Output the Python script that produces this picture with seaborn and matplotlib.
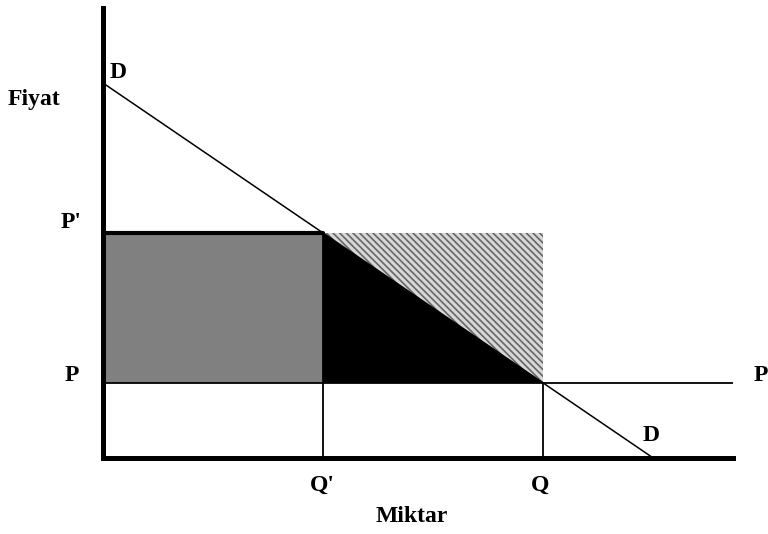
import matplotlib
matplotlib.use("Agg")
import matplotlib.pyplot as plt
import seaborn as sns
import pandas as pd

# Quantities and prices
q_prime = 4      # Q'
q_comp = 8       # Q
p_low = 2        # P
p_high = 6       # P'
demand_q = [0, 10]
demand_p = [10, 0]
p_line_end = 11.5

sns.set_style("white")
plt.rcParams["font.family"] = ["Liberation Serif", "DejaVu Serif"]
plt.rcParams["hatch.linewidth"] = 1.2
plt.rcParams["text.color"] = "black"

fig = plt.figure(figsize=(7.68, 5.34), dpi=100)
ax = fig.add_axes([103 / 768, 76 / 534, 630 / 768, 450 / 534])

# Areas
ax.fill_between([0, q_prime], p_low, p_high, color="#808080", lw=0)
ax.fill([q_prime, q_prime, q_comp], [p_high, p_low, p_low], color="black", lw=0)
ax.fill([q_prime, q_comp, q_comp], [p_high, p_high, p_low],
        facecolor="#d8d8d8", edgecolor="#666666", hatch="\\\\\\\\\\", lw=0)

# Demand curve
demand = pd.DataFrame({"q": demand_q, "p": demand_p})
sns.lineplot(data=demand, x="q", y="p", color="black", lw=1.1, ax=ax)

# Price lines and quantity markers
ax.plot([0, q_prime], [p_high, p_high], color="black", lw=3)
ax.plot([0, p_line_end], [p_low, p_low], color="black", lw=1.3)
ax.plot([q_prime, q_prime], [0, p_high], color="black", lw=1.3)
ax.plot([q_comp, q_comp], [0, p_low], color="black", lw=1.3)

ax.set_xlim(0, 11.45)
ax.set_ylim(0, 12)
ax.set_xticks([])
ax.set_yticks([])
ax.set_xlabel("")
ax.set_ylabel("")
for side in ["top", "right"]:
    ax.spines[side].set_visible(False)
for side in ["left", "bottom"]:
    ax.spines[side].set_linewidth(3.6)
    ax.spines[side].set_color("black")

fs = 17
kw = dict(fontsize=fs, fontweight="bold", va="center", color="black")
ax.text(-1.73, 9.55, "Fiyat", ha="left", **kw)
ax.text(0.27, 10.27, "D", ha="center", **kw)
ax.text(-0.58, 6.29, "P'", ha="center", **kw)
ax.text(-0.56, 2.21, "P", ha="center", **kw)
ax.text(11.83, 2.21, "P", ha="left", **kw)
ax.text(9.96, 0.59, "D", ha="center", **kw)
ax.text(3.98, -0.72, "Q'", ha="center", **kw)
ax.text(7.95, -0.72, "Q", ha="center", **kw)
ax.text(5.62, -1.57, "Miktar", ha="center", **kw)

fig.savefig("out.png", dpi=100)
